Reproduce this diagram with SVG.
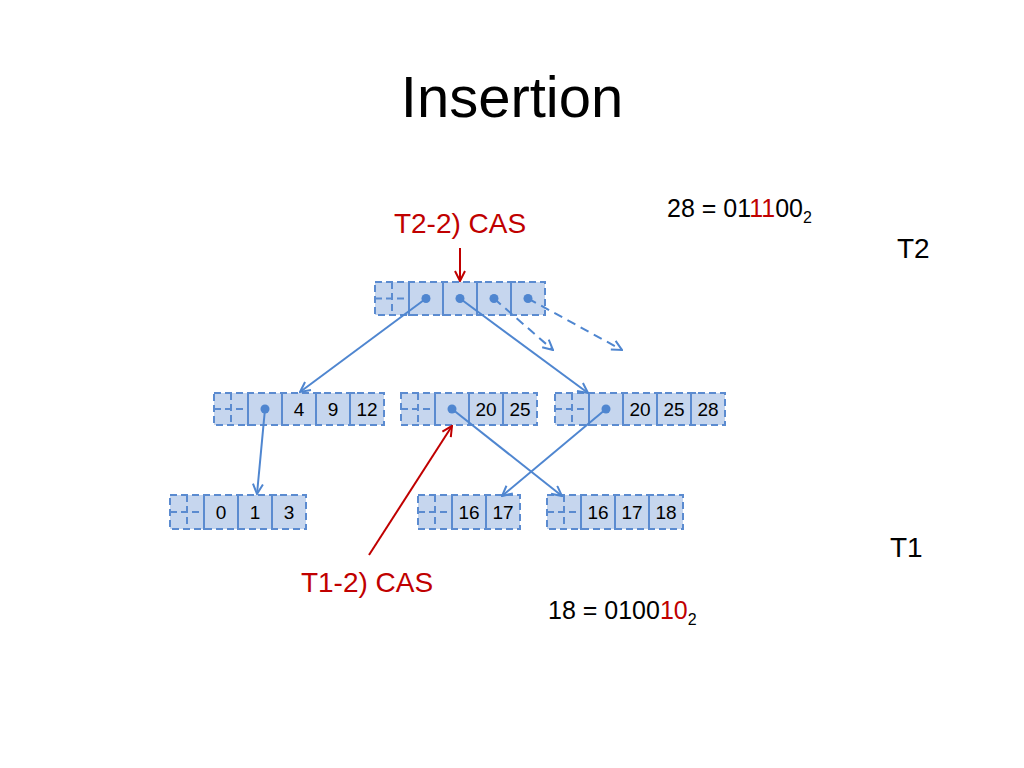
<svg xmlns="http://www.w3.org/2000/svg" width="1024" height="768" viewBox="0 0 1024 768">
<style>
.box{fill:#c6d6ee;stroke:#5b8bd0;stroke-width:2;stroke-dasharray:7 4}
.sep{fill:none;stroke:#5b8bd0;stroke-width:2;stroke-dasharray:7 4}
.br{fill:none;stroke:#5b8bd0;stroke-width:2}
.dot{fill:#4f86d0}
.val{font-family:"Liberation Sans",Arial,sans-serif;font-size:19px;fill:#000;text-anchor:middle}
.lbl{font-family:"Liberation Sans",Arial,sans-serif;font-size:28px}
.red{fill:#c00000}
.blk{fill:#000}
.edge{fill:none;stroke:#4f86d0;stroke-width:2}
.dash{stroke-dasharray:9 6}
.rline{fill:none;stroke:#c00000;stroke-width:2}
</style>
<defs>
<marker id="ab" viewBox="0 0 12 12" refX="11" refY="6" markerWidth="12" markerHeight="12" markerUnits="userSpaceOnUse" orient="auto">
<path d="M1,1 L11,6 L1,11" fill="none" stroke="#4f86d0" stroke-width="2"/>
</marker>
<marker id="ar" viewBox="0 0 12 12" refX="11" refY="6" markerWidth="12" markerHeight="12" markerUnits="userSpaceOnUse" orient="auto">
<path d="M1,1 L11,6 L1,11" fill="none" stroke="#c00000" stroke-width="2"/>
</marker>
</defs>
<rect width="1024" height="768" fill="#fff"/>
<text x="512" y="117" font-family="'Liberation Sans',Arial,sans-serif" font-size="58" text-anchor="middle" fill="#000">Insertion</text>

<g id="top">
<rect class="box" x="375" y="282" width="170" height="33"/>
<path class="sep" d="M392,282V315M375,298.5H409"/>
<path class="br" d="M414,282H409V315H414M448,282H443V315H448M482,282H477V315H482M516,282H511V315H516"/>
<circle class="dot" cx="426" cy="298.5" r="4.5"/><circle class="dot" cx="460" cy="298.5" r="4.5"/><circle class="dot" cx="494" cy="298.5" r="4.5"/><circle class="dot" cx="528" cy="298.5" r="4.5"/>
</g>

<g id="mid1">
<rect class="box" x="214" y="393" width="170" height="32"/>
<path class="sep" d="M231,393V425M214,409H248"/>
<path class="br" d="M253,393H248V425H253M287,393H282V425H287M321,393H316V425H321M355,393H350V425H355"/>
<circle class="dot" cx="265" cy="409" r="4.5"/>
<text class="val" x="299" y="416">4</text><text class="val" x="333" y="416">9</text><text class="val" x="367" y="416">12</text>
</g>

<g id="mid2">
<rect class="box" x="401" y="393" width="136" height="32"/>
<path class="sep" d="M418,393V425M401,409H435"/>
<path class="br" d="M440,393H435V425H440M474,393H469V425H474M508,393H503V425H508"/>
<circle class="dot" cx="452" cy="409" r="4.5"/>
<text class="val" x="486" y="416">20</text><text class="val" x="520" y="416">25</text>
</g>

<g id="mid3">
<rect class="box" x="555" y="393" width="170" height="32"/>
<path class="sep" d="M572,393V425M555,409H589"/>
<path class="br" d="M594,393H589V425H594M628,393H623V425H628M662,393H657V425H662M696,393H691V425H696"/>
<circle class="dot" cx="606" cy="409" r="4.5"/>
<text class="val" x="640" y="416">20</text><text class="val" x="674" y="416">25</text><text class="val" x="708" y="416">28</text>
</g>

<g id="bot1">
<rect class="box" x="170" y="495" width="136" height="34"/>
<path class="sep" d="M187,495V529M170,512H204"/>
<path class="br" d="M209,495H204V529H209M243,495H238V529H243M277,495H272V529H277"/>
<text class="val" x="221" y="519">0</text><text class="val" x="255" y="519">1</text><text class="val" x="289" y="519">3</text>
</g>

<g id="bot2">
<rect class="box" x="418" y="495" width="102" height="34"/>
<path class="sep" d="M435,495V529M418,512H452"/>
<path class="br" d="M457,495H452V529H457M491,495H486V529H491"/>
<text class="val" x="469" y="519">16</text><text class="val" x="503" y="519">17</text>
</g>

<g id="bot3">
<rect class="box" x="547" y="495" width="136" height="34"/>
<path class="sep" d="M564,495V529M547,512H581"/>
<path class="br" d="M586,495H581V529H586M620,495H615V529H620M654,495H649V529H654"/>
<text class="val" x="598" y="519">16</text><text class="val" x="632" y="519">17</text><text class="val" x="666" y="519">18</text>
</g>

<g id="connectors">
<line class="edge" x1="426" y1="298.5" x2="300" y2="392" marker-end="url(#ab)"/>
<line class="edge" x1="460" y1="298.5" x2="588" y2="393" marker-end="url(#ab)"/>
<line class="edge dash" x1="494" y1="298.5" x2="553" y2="350" marker-end="url(#ab)"/>
<line class="edge dash" x1="528" y1="298.5" x2="622" y2="350" marker-end="url(#ab)"/>
<line class="edge" x1="265" y1="409" x2="257" y2="494" marker-end="url(#ab)"/>
<line class="edge" x1="452" y1="409" x2="562" y2="496" marker-end="url(#ab)"/>
<line class="edge" x1="606" y1="409" x2="502" y2="496" marker-end="url(#ab)"/>
<line class="rline" x1="460" y1="248" x2="460" y2="281" marker-end="url(#ar)"/>
<line class="rline" x1="369" y1="555" x2="452" y2="426" marker-end="url(#ar)"/>
</g>

<g id="labels">
<text class="lbl red" x="460" y="233" text-anchor="middle">T2-2) CAS</text>
<text class="lbl red" x="367" y="592" text-anchor="middle">T1-2) CAS</text>
<text class="lbl blk" x="897" y="258">T2</text>
<text class="lbl blk" x="890" y="557">T1</text>
<text x="667" y="217" font-family="'Liberation Sans',Arial,sans-serif" font-size="25" fill="#000">28 = 01<tspan fill="#c00000">11</tspan>00<tspan font-size="16" dy="6">2</tspan></text>
<text x="548" y="619" font-family="'Liberation Sans',Arial,sans-serif" font-size="25" fill="#000">18 = 0100<tspan fill="#c00000">10</tspan><tspan font-size="16" dy="6">2</tspan></text>
</g>
</svg>
